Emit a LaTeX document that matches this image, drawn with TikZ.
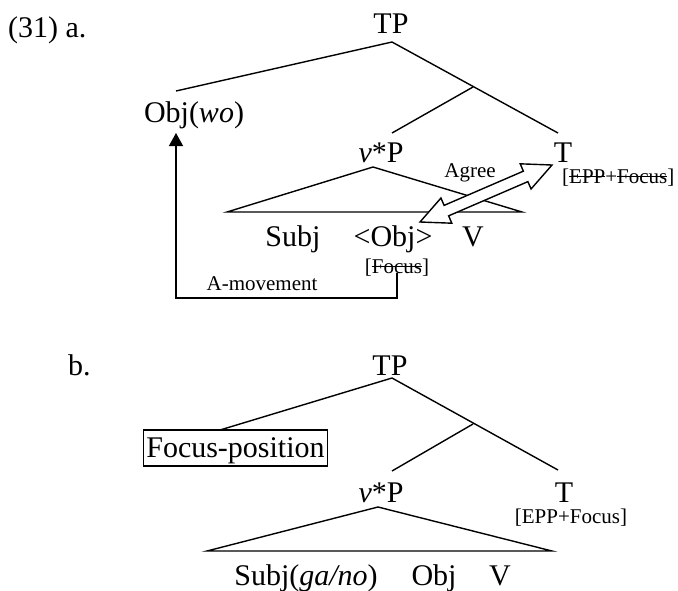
\documentclass[tikz,border=0pt]{standalone}
\usepackage{fontspec}
\setmainfont{Liberation Serif}
\usetikzlibrary{shapes.arrows,calc,arrows.meta}
\newcommand{\bigtxt}{\fontsize{30}{35}\selectfont}
\newcommand{\smalltxt}{\fontsize{21}{25}\selectfont}
\newcommand{\strk}[1]{\setbox0\hbox{#1}\rlap{\rule[0.3em]{\wd0}{1pt}}\box0}
\tikzset{
  cat/.style={inner sep=0pt, anchor=base, font=\bigtxt},
  feat/.style={inner sep=0pt, anchor=base, font=\smalltxt},
  branch/.style={line width=1.4pt},
  agreearrow/.style={double arrow, draw, fill=white, line width=1.4pt, inner sep=5pt,
    minimum width=26pt, double arrow head extend=8pt, double arrow tip angle=51},
  mvarrow/.style={line width=1.4pt, -{Triangle[width=14pt,length=13pt]}},
}

\begin{document}
\begin{tikzpicture}[x=1pt, y=-1pt]
    \useasboundingbox (0,0) rectangle (678,590);

    % (31a)
    \node[cat, anchor=base west] (ex-a) at (8,37) {(31) a.};
    \node[cat] (TPa) at (391,33) {TP};
    \node[cat] (Obja) at (194,122) {Obj(\textit{wo})};
    \node[cat] (vPa) at (381,162) {\textit{v}*P};
    \node[cat] (Ta) at (563,162) {T};
    \node[feat, anchor=base west] (fTa) at (562,183) {[\strk{EPP}+\strk{Focus}]};
    \node[cat] (Subja) at (293,246) {Subj};
    \node[cat] (Objtr) at (393,246) {<Obj>};
    \node[cat] (Va) at (473,246) {V};
    \node[feat] (fObj) at (397,273) {[\strk{Focus}]};
    \node[feat] (mvlbl) at (262,290) {A-movement};
    \node[feat] (agree) at (470,177) {Agree};

    \coordinate (a-TP) at (392,42);
    \coordinate (a-Obj) at (176,91);
    \coordinate (a-bar) at (473,87);
    \coordinate (a-vP) at (392,133);
    \coordinate (a-T) at (558,133);
    \coordinate (a-top) at (373,167);
    \coordinate (a-left) at (227,212);
    \coordinate (a-right) at (522,212);
    \coordinate (a-land) at (176,133);
    \coordinate (ag-l) at (420,222);
    \coordinate (ag-r) at (552,165);

    \draw[branch] (a-Obj) -- (a-TP) -- (a-T);
    \draw[branch] (a-bar) -- (a-vP);
    \draw[branch] (a-top) -- (a-left) -- (a-right) -- cycle;

    \draw[mvarrow] (fObj.base) -- ++(0,25) -| (a-land);
    \path let \p1=($(ag-r)-(ag-l)$), \n1={veclen(\x1,\y1)}, \n2={atan2(\y1,\x1)} in
        node[agreearrow, minimum height=\n1, rotate=\n2] (agr) at ($(ag-l)!0.5!(ag-r)$) {};

    % (31b)
    \node[cat, anchor=base west] (ex-b) at (68,375) {b.};
    \node[cat] (TPb) at (390,375) {TP};
    \node[cat, draw, line width=1.4pt, inner xsep=3pt, inner ysep=4pt,
        text height=23pt, text depth=5pt] (focpos) at (235.5,457) {Focus-position};
    \node[cat] (vPb) at (381,502) {\textit{v}*P};
    \node[cat] (Tb) at (564,502) {T};
    \node[feat] (fTb) at (571,523) {[EPP+Focus]};
    \node[cat] (Subjb) at (306,585) {Subj(\textit{ga/no})};
    \node[cat] (Objb) at (434,585) {Obj};
    \node[cat] (Vb) at (500,585) {V};

    \coordinate (b-TP) at (392,378);
    \coordinate (b-Foc) at (220,430);
    \coordinate (b-bar) at (473,424);
    \coordinate (b-vP) at (392,471);
    \coordinate (b-T) at (558,470);
    \coordinate (b-top) at (378,507);
    \coordinate (b-left) at (207,551);
    \coordinate (b-right) at (552,551);

    \draw[branch] (b-Foc) -- (b-TP) -- (b-T);
    \draw[branch] (b-bar) -- (b-vP);
    \draw[branch] (b-top) -- (b-left) -- (b-right) -- cycle;
\end{tikzpicture}
\end{document}
